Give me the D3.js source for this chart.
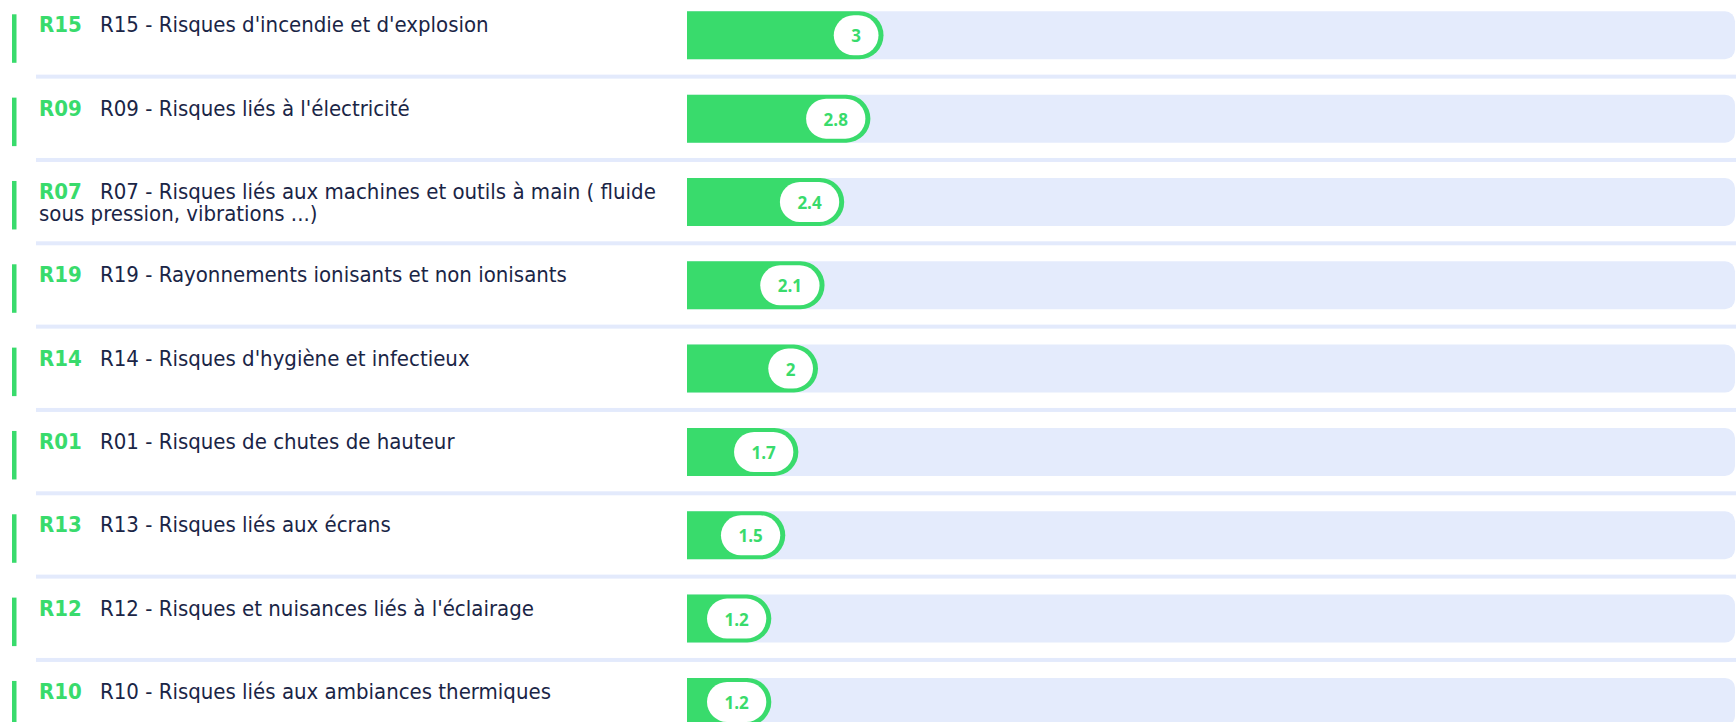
<!DOCTYPE html>
<html>
<head>
<meta charset="utf-8">
<script src="https://cdn.jsdelivr.net/npm/d3@7"></script>
<style>
  html, body { margin: 0; padding: 0; background: #ffffff; overflow: hidden; }
  svg { display: block; }
</style>
</head>
<body>
<svg id="chart" width="1736" height="722"></svg>
<script>
// ---- data ----
const codes = ["R15", "R09", "R07", "R19", "R14", "R01", "R13", "R12", "R10"];
const labels = [
  "R15 - Risques d'incendie et d'explosion",
  "R09 - Risques liés à l'électricité",
  "R07 - Risques liés aux machines et outils à main ( fluide sous pression, vibrations ...)",
  "R19 - Rayonnements ionisants et non ionisants",
  "R14 - Risques d'hygiène et infectieux",
  "R01 - Risques de chutes de hauteur",
  "R13 - Risques liés aux écrans",
  "R12 - Risques et nuisances liés à l'éclairage",
  "R10 - Risques liés aux ambiances thermiques"
];
const values = [3, 2.8, 2.4, 2.1, 2, 1.7, 1.5, 1.2, 1.2];
const scoreDomain = [0, 16];

// ---- style / layout ----
const W = 1736, H = 722;
const GREEN = "#39db6c", TRACK = "#e4ebfc", SEP = "#e3eafc", NAVY = "#1a2546";
const rowStep = 83.33, rowTop0 = -8.7;
const barOffset = 20, barH = 48;
const trackX0 = 687, trackX1 = 1735;
const labelFont = "'DejaVu Sans Condensed', 'DejaVu Sans', sans-serif";

const svg = d3.select("#chart");
const rows = codes.map((c, i) => ({ code: c, label: labels[i], value: values[i] }));

const y = d3.scaleBand().domain(codes).range([rowTop0, rowTop0 + rowStep * codes.length]).paddingInner(0).paddingOuter(0);
const x = d3.scaleLinear().domain(scoreDomain).range([trackX0, trackX1]);

// separators (between rows)
svg.append("g").selectAll("rect").data(rows.slice(1)).join("rect")
  .attr("x", 36).attr("width", W - 36)
  .attr("y", d => y(d.code)).attr("height", 4)
  .attr("fill", SEP);

const g = svg.append("g").selectAll("g").data(rows).join("g")
  .attr("transform", d => `translate(0,${y(d.code) + barOffset})`);

// left marker
g.append("rect").attr("x", 12).attr("y", 3).attr("width", 4.5).attr("height", 48.5).attr("fill", GREEN);

// track (rounded right only)
function rightRounded(x0, x1, h, r) {
  r = Math.min(r, (x1 - x0), h / 2);
  return `M${x0},0H${x1 - r}A${r},${r} 0 0 1 ${x1},${r}V${h - r}A${r},${r} 0 0 1 ${x1 - r},${h}H${x0}Z`;
}
g.append("path").attr("d", rightRounded(trackX0, trackX1, barH, 10)).attr("fill", TRACK);

// labels: code + description with wrapping
const textMaxX = 672;
g.each(function(d) {
  const sel = d3.select(this);
  const t = sel.append("text").attr("y", 21).attr("font-family", labelFont).attr("font-size", 22);
  t.append("tspan").attr("x", 39).attr("fill", GREEN).attr("font-weight", "bold").text(d.code);
  const words = d.label.split(" ");
  let line = [];
  let tsp = t.append("tspan").attr("x", 100).attr("fill", NAVY).text("");
  let startX = 100;
  for (const w of words) {
    line.push(w);
    tsp.text(line.join(" "));
    if (startX + tsp.node().getComputedTextLength() > textMaxX && line.length > 1) {
      line.pop();
      tsp.text(line.join(" "));
      line = [w];
      startX = 39;
      tsp = t.append("tspan").attr("x", 39).attr("dy", 22).attr("fill", NAVY).text(w);
    }
  }
});

// value bars with pill labels
g.each(function(d) {
  const sel = d3.select(this);
  const txt = d3.format("~g")(d.value);
  const label = sel.append("text").attr("font-family", "'Open Sans', sans-serif")
    .attr("font-weight", "bold").attr("font-size", 17).attr("fill", GREEN)
    .attr("text-anchor", "middle").attr("dominant-baseline", "central").text(txt);
  const tw = label.node().getComputedTextLength();
  const pillH = 40;
  const pillW = Math.max(44, tw + 35);
  const barEnd = Math.max(x(d.value), trackX0 + pillW + 25);
  sel.insert("path", "text:last-of-type")
    .attr("d", rightRounded(trackX0, barEnd, barH, barH / 2)).attr("fill", GREEN);
  const px = barEnd - 5 - pillW;
  sel.insert("rect", "text:last-of-type")
    .attr("x", px).attr("y", (barH - pillH) / 2).attr("width", pillW).attr("height", pillH)
    .attr("rx", pillH / 2).attr("fill", "#ffffff");
  label.attr("x", px + pillW / 2).attr("y", barH / 2 + 0.5);
  label.raise();
});
</script>
</body>
</html>
